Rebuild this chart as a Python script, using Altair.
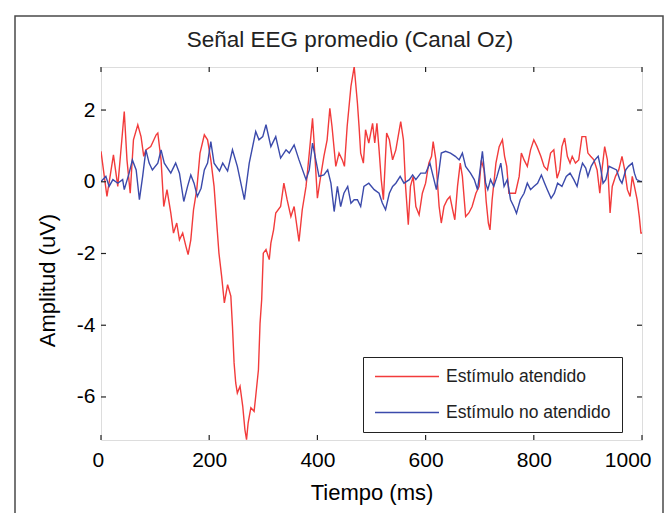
import altair as alt
import pandas as pd

FONT = "Liberation Sans"
INK = "#222222"

# ---- data ----
title_text = "Señal EEG promedio (Canal Oz)"
series_names = ["Estímulo atendido", "Estímulo no atendido"]
series_colors = ["#f23b3b", "#3b4aab"]
x_ticks = [0, 200, 400, 600, 800, 1000]
y_ticks = [-6, -4, -2, 0, 2]

red_t = [0, 11, 23, 31, 38, 43, 48, 54, 60, 68,
         74, 79, 83, 92, 102, 105, 111, 116, 122, 129,
         134, 140, 145, 151, 157, 161, 166, 171, 177, 183,
         191, 197, 203, 209, 215, 218, 223, 228, 234, 240,
         243, 246, 249, 252, 257, 262, 266, 269, 272, 277,
         283, 286, 291, 294, 297, 300, 305, 311, 314, 319,
         323, 332, 338, 344, 351, 357, 366, 372, 379, 385,
         391, 394, 400, 406, 412, 418, 423, 427, 434, 440,
         446, 450, 455, 462, 468, 474, 477, 480, 485, 489,
         495, 502, 506, 510, 514, 518, 522, 528, 533, 539,
         545, 554, 559, 563, 568, 572, 577, 582, 588, 594,
         600, 606, 611, 614, 619, 625, 629, 634, 640, 645,
         650, 654, 659, 664, 668, 674, 680, 686, 693, 699,
         703, 708, 712, 716, 719, 723, 730, 736, 742, 746,
         750, 754, 760, 766, 773, 777, 782, 788, 794, 800,
         806, 813, 819, 825, 831, 837, 843, 848, 852, 857,
         862, 867, 871, 877, 883, 889, 896, 900, 905, 911,
         917, 922, 926, 931, 936, 941, 945, 951, 957, 963,
         968, 973, 978, 982, 986, 991, 995, 998, 1000]
red_v = [0.85, -0.41, 0.75, -0.13, 1.08, 1.96, 0.61, -0.32, 1.17, 1.59,
         1.26, 0.71, 0.89, 0.98, 1.31, 1.36, 0.61, -0.69, -0.22, -0.87,
         -1.43, -1.15, -1.62, -1.43, -1.80, -2.03, -1.62, -0.78, -0.22, 0.80,
         1.31, 1.17, 0.61, -0.13, -1.38, -1.99, -2.64, -3.38, -2.87, -3.19,
         -4.03, -5.05, -5.61, -5.89, -5.70, -6.26, -6.91, -7.19, -6.72, -6.30,
         -6.40, -5.98, -5.24, -3.94, -3.29, -1.99, -1.89, -2.17, -1.71, -1.34,
         -0.87, -0.69, -0.04, -0.50, -0.97, -0.69, -1.66, -0.78, -0.13, 0.80,
         1.77, 1.08, -0.46, 0.15, 0.71, 1.17, 2.05, 1.54, 0.43, 0.80,
         0.61, 0.43, 1.54, 2.66, 3.21, 2.19, 1.54, 0.80, 0.52, 1.45,
         1.08, 1.63, 1.08, 1.63, 0.89, 0.06, -0.50, 1.36, 1.17, 0.61,
         0.89, 1.68, 1.17, -0.13, -1.20, -0.13, 0.15, -0.69, -0.92, -0.32,
         -0.04, 0.52, 0.71, 1.12, 0.61, -0.69, -1.15, -0.69, -0.50, -0.41,
         -0.78, -1.06, -0.13, 0.52, 0.15, -0.97, -0.87, -0.69, -0.32, -0.13,
         0.60, 0.33, -0.55, -1.15, -1.34, -0.50, 0.52, 0.98, 1.17, 0.71,
         0.43, -0.32, -0.32, -0.32, 0.15, 0.80, 0.61, 0.43, 0.89, 1.17,
         0.98, 0.71, 0.43, 0.33, 0.80, 0.89, 0.10, 0.33, 0.98, 1.22,
         0.71, 0.52, 0.71, 0.52, 0.61, 1.26, 1.26, 0.80, 0.71, 0.61,
         0.33, -0.32, 0.33, 0.98, 0.61, -0.87, -0.13, 0.15, 0.33, 0.71,
         0.33, -0.22, -0.41, 0.15, -0.13, -0.50, -0.97, -1.43, -1.43]

blue_t = [0, 9, 15, 22, 31, 40, 43, 52, 58, 65,
          71, 77, 83, 89, 95, 105, 111, 117, 129, 138,
          145, 153, 160, 166, 172, 178, 185, 191, 197, 203,
          209, 219, 225, 234, 243, 252, 265, 274, 286, 292,
          299, 305, 314, 323, 332, 342, 348, 357, 366, 379,
          385, 391, 397, 403, 412, 419, 425, 431, 437, 443,
          449, 456, 462, 468, 474, 480, 486, 495, 505, 514,
          520, 526, 533, 539, 545, 553, 560, 570, 576, 582,
          591, 600, 608, 614, 620, 625, 629, 637, 646, 655,
          662, 668, 674, 683, 690, 696, 700, 705, 711, 715,
          720, 726, 732, 739, 745, 751, 757, 763, 768, 775,
          782, 788, 794, 800, 807, 814, 820, 825, 832, 838,
          844, 852, 860, 867, 874, 880, 885, 890, 896, 900,
          906, 913, 919, 923, 928, 933, 939, 946, 953, 959,
          963, 970, 975, 982, 986, 990, 997, 1000]
blue_v = [0.01, 0.15, -0.13, 0.06, -0.04, 0.06, -0.22, 0.24, 0.61, 0.33,
          -0.50, 0.15, 0.89, 0.52, 0.33, 0.52, 0.89, 0.52, 0.24, 0.52,
          0.24, -0.55, -0.13, 0.19, -0.04, -0.41, -0.18, 0.33, 0.52, 1.12,
          0.52, 0.30, 0.52, 0.30, 0.89, 0.43, -0.50, 0.52, 1.40, 1.17,
          1.26, 1.59, 0.98, 1.26, 0.66, 0.89, 0.80, 1.03, 0.61, 0.06,
          0.33, 1.08, 0.61, 0.15, 0.19, 0.33, -0.04, -0.83, -0.13, -0.69,
          -0.32, -0.13, -0.60, -0.50, -0.50, -0.69, -0.13, -0.04, -0.22, -0.32,
          -0.59, -0.78, -0.32, -0.13, -0.04, 0.15, -0.04, 0.06, 0.19, 0.06,
          0.24, 0.24, 0.52, 0.15, -0.22, 0.33, 0.80, 0.85, 0.80, 0.71,
          0.61, 0.80, 0.43, 0.24, 0.06, -0.22, 0.24, 0.85, -0.04, -0.22,
          0.06, -0.13, 0.15, 0.52, -0.13, 0.06, -0.50, -0.69, -0.88, -0.50,
          -0.32, -0.04, -0.22, -0.13, -0.04, 0.19, -0.04, -0.22, -0.46, -0.32,
          -0.04, -0.13, 0.15, 0.24, 0.06, -0.13, 0.24, 0.52, 0.38, 0.15,
          0.43, 0.61, 0.71, 0.43, -0.04, 0.06, 0.43, 0.38, 0.33, 0.06,
          -0.04, 0.33, 0.43, 0.52, 0.24, 0.06, 0.01, 0.01]

# ---- tables ----
df = pd.concat([
    pd.DataFrame({"t": red_t, "v": red_v, "serie": series_names[0],
                  "k": range(len(red_t))}),
    pd.DataFrame({"t": blue_t, "v": blue_v, "serie": series_names[1],
                  "k": range(len(blue_t))}),
], ignore_index=True)
xt = pd.DataFrame({"t": x_ticks})
yt = pd.DataFrame({"v": y_ticks})

W, H = 541, 373
TICK = 5

x_scale = alt.Scale(domain=[0, 1000], nice=False, zero=False)
y_scale = alt.Scale(domain=[-7.2, 3.2], nice=False, zero=False)

x_enc = alt.X("t:Q", scale=x_scale,
              axis=alt.Axis(values=x_ticks, ticks=False, domain=False, grid=False,
                            labelFontSize=21, labelPadding=9,
                            labelFlush=True, labelFlushOffset=9,
                            labelExpr="toString(datum.value)",
                            title="Tiempo (ms)", titleFontSize=22,
                            titleFontWeight="normal", titleY=52,
                            titleBaseline="middle"))
y_enc = alt.Y("v:Q", scale=y_scale,
              axis=alt.Axis(values=y_ticks, ticks=False, domain=False, grid=False,
                            labelFontSize=21, labelPadding=6,
                            labelExpr="toString(datum.value)",
                            title="Amplitud (uV)", titleFontSize=22,
                            titleFontWeight="normal", titleAngle=270,
                            titleX=-54, titleY=213, titleAlign="center",
                            titleBaseline="middle"))

lines = alt.Chart(df).mark_line(strokeWidth=1.4, clip=True).encode(
    x=x_enc,
    y=y_enc,
    color=alt.Color("serie:N",
                    scale=alt.Scale(domain=series_names, range=series_colors),
                    sort=series_names,
                    legend=alt.Legend(title=None, orient="none",
                                      legendX=262, legendY=290,
                                      symbolType="stroke", symbolSize=4096,
                                      symbolStrokeWidth=1.6, clipHeight=17,
                                      labelFontSize=17.5, labelFont=FONT,
                                      labelColor=INK, labelOffset=6,
                                      labelLimit=400,
                                      padding=11, rowPadding=18,
                                      strokeColor=INK, fillColor="white")),
    detail="serie:N",
    order="k:Q",
)

tick_style = dict(color=INK, strokeWidth=1.2)
xb = alt.Chart(xt).mark_rule(**tick_style).encode(
    x=x_enc, y=alt.value(H), y2=alt.value(H - TICK))
xtop = alt.Chart(xt).mark_rule(**tick_style).encode(
    x=x_enc, y=alt.value(0), y2=alt.value(TICK))
yl = alt.Chart(yt).mark_rule(**tick_style).encode(
    y=y_enc, x=alt.value(0), x2=alt.value(TICK))
yr = alt.Chart(yt).mark_rule(**tick_style).encode(
    y=y_enc, x=alt.value(W), x2=alt.value(W - TICK))

frame = alt.Chart(pd.DataFrame({"a": [0]})).mark_rect(
    fillOpacity=0, stroke="#4a4a4a", strokeWidth=1.5).encode(
    x=alt.value(-86), x2=alt.value(562), y=alt.value(-51), y2=alt.value(480))

title = alt.Chart(pd.DataFrame({"s": [title_text]})).mark_text(
    font=FONT, fontSize=22.5, color=INK, align="center", baseline="alphabetic"
).encode(text="s:N", x=alt.value(249), y=alt.value(-20))

chart = alt.layer(frame, title, lines, xb, xtop, yl, yr).properties(
    width=W, height=H,
    autosize=alt.AutoSizeParams(type="none"),
    padding={"left": 101, "top": 67, "right": 28, "bottom": 73},
).configure_view(
    stroke=INK, strokeWidth=1.5
).configure_axis(
    labelFont=FONT, titleFont=FONT, labelColor=INK, titleColor=INK
).configure_legend(
    strokeWidth=1.5
).configure(background="white")

chart.save("out.html", embed_options={"renderer": "svg", "actions": False})
